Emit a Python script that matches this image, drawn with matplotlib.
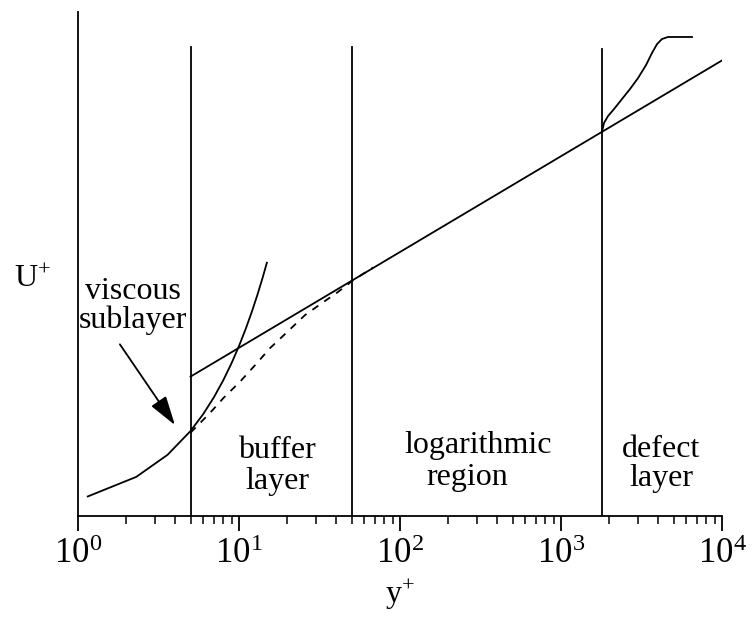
import matplotlib
matplotlib.use("Agg")
import matplotlib.pyplot as plt

plt.rcParams['font.family'] = 'Liberation Serif'
plt.rcParams['mathtext.fontset'] = 'custom'
plt.rcParams['mathtext.rm'] = 'Liberation Serif'
plt.rcParams['mathtext.it'] = 'Liberation Serif:italic'
plt.rcParams['mathtext.default'] = 'regular'

# viscous sublayer, U+ = y+
visc_y = [1.15, 2.3, 3.6, 5.0, 6.0, 7.0, 8.0, 9.0, 10.0, 11.0, 12.0, 13.0, 14.0, 14.9]
visc_u = [1.15, 2.3, 3.6, 5.0, 6.0, 7.0, 8.0, 9.0, 10.0, 11.0, 12.0, 13.0, 14.0, 14.9]

# log law, straight line on the log axis
log_y = [5.0, 1.0e4]
log_u = [8.2, 26.8]

# buffer layer blend (dashed)
buf_y = [5.0, 6.6, 8.0, 10.1, 12.6, 15.6, 19.9, 25.7, 32.8, 41.2, 51.0, 68.0]
buf_u = [4.9, 6.06, 6.94, 7.88, 8.88, 9.88, 10.82, 11.82, 12.53, 13.18, 13.86, 14.62]

# wake / defect layer
def_y = [1800, 1849, 1960, 2134, 2392, 2684, 3008, 3375, 3675, 3948, 4238, 4620, 6513]
def_u = [22.62, 23.12, 23.53, 23.94, 24.53, 25.12, 25.76, 26.53, 27.24, 27.76, 28.06, 28.18, 28.18]

# region boundaries
bounds = [5, 50, 1800]
bound_top = [27.6, 27.6, 27.5]

fig = plt.figure(figsize=(7.52, 6.22), dpi=100)
ax = fig.add_axes([78/752, 106/622, 644/752, 504/622])

lw = 1.3
ax.plot(visc_y, visc_u, color='black', lw=lw)
ax.plot(log_y, log_u, color='black', lw=lw)
ax.plot(buf_y, buf_u, color='black', lw=lw, linestyle=(0, (4, 4)))
ax.plot(def_y, def_u, color='black', lw=lw, solid_joinstyle='round')
for b, t in zip(bounds, bound_top):
    ax.plot([b, b], [0, t], color='black', lw=lw)

ax.set_xscale('log')
ax.set_xlim(1, 1e4)
ax.set_ylim(0, 29.65)
ax.set_yticks([])
ax.spines['top'].set_visible(False)
ax.spines['right'].set_visible(False)
ax.spines['left'].set_linewidth(1.3)
ax.spines['bottom'].set_linewidth(1.3)
ax.tick_params(axis='x', which='major', length=11, width=1.3, pad=5, labelsize=25)
ax.tick_params(axis='x', which='minor', length=6, width=1.1)

ax.set_xlabel('y$^{+}$', fontsize=23, labelpad=5)
ax.text(-0.07, 0.47, 'U$^{+}$', transform=ax.transAxes, fontsize=23,
        ha='center', va='center')

fs = 23
ax.text(2.2, 12.75, 'viscous', fontsize=fs, ha='center', va='baseline')
ax.text(2.2, 11.05, 'sublayer', fontsize=fs, ha='center', va='baseline')
ax.text(17.2, 3.4, 'buffer', fontsize=fs, ha='center', va='baseline')
ax.text(17.2, 1.6, 'layer', fontsize=fs, ha='center', va='baseline')
ax.text(305, 3.72, 'logarithmic', fontsize=fs, ha='center', va='baseline')
ax.text(262, 1.8, 'region', fontsize=fs, ha='center', va='baseline')
ax.text(4178, 3.45, 'defect', fontsize=fs, ha='center', va='baseline')
ax.text(4178, 1.75, 'layer', fontsize=fs, ha='center', va='baseline')

ax.annotate('', xy=(4.0, 5.35), xytext=(1.82, 10.1),
            arrowprops=dict(arrowstyle='-|>,head_length=1.8,head_width=0.55',
                            color='black', lw=1.3, shrinkA=0, shrinkB=0))

fig.savefig('out.png', dpi=100)
